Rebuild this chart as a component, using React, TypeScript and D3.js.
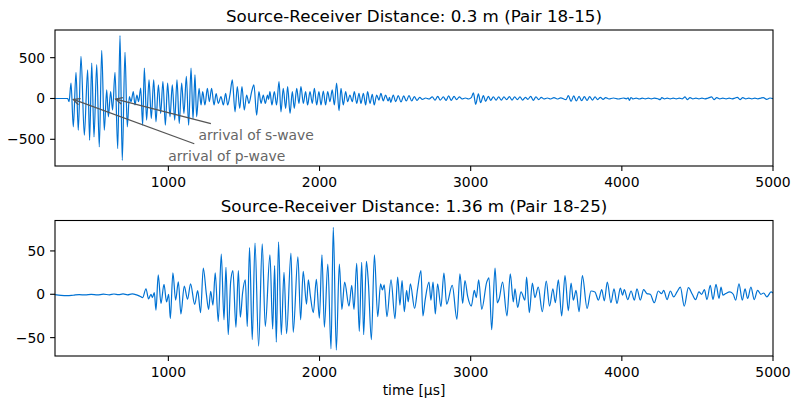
import React from "react";
import * as d3 from "d3";

// ---------- DATA ----------
const titles = [
  "Source-Receiver Distance: 0.3 m (Pair 18-15)",
  "Source-Receiver Distance: 1.36 m (Pair 18-25)",
];
const xTicks = [1000, 2000, 3000, 4000, 5000];
const topYTicks = [-500, 0, 500];
const botYTicks = [-50, 0, 50];
const xLabel = "time [µs]";

// annotations: [label, arrival time, text x, text y]
const annLabels = ["arrival of p-wave", "arrival of s-wave"];
const annArrival = [354, 634];
const annTextX = [1000, 1200];
const annTextY = [-700, -450];

// pair 18-15 (top)
const topTime = [
  250, 300, 334, 343, 356, 371, 389, 404, 422, 444, 466, 479, 493, 508, 526, 543, 559, 576, 592, 603,
  618, 631, 647, 665, 680, 695, 713, 728, 742, 753, 768, 779, 792, 803, 817, 830, 841, 856, 872, 887,
  903, 918, 934, 949, 964, 980, 995, 1011, 1026, 1042, 1057, 1072, 1088, 1103, 1119, 1134, 1150, 1163, 1176, 1187,
  1203, 1216, 1227, 1242, 1258, 1271, 1286, 1302, 1316, 1330, 1348, 1364, 1379, 1392, 1408, 1423, 1441, 1456, 1472, 1487,
  1502, 1518, 1533, 1551, 1566, 1584, 1599, 1613, 1628, 1641, 1656, 1663, 1672, 1685, 1701, 1716, 1732, 1745, 1760, 1776,
  1789, 1805, 1820, 1833, 1849, 1864, 1877, 1893, 1908, 1921, 1937, 1952, 1966, 1981, 1996, 2010, 2025, 2040, 2054, 2069,
  2084, 2098, 2113, 2129, 2142, 2157, 2173, 2186, 2201, 2217, 2230, 2246, 2261, 2274, 2290, 2305, 2318, 2334, 2349, 2362,
  2378, 2393, 2406, 2422, 2437, 2454, 2463, 2471, 2488, 2504, 2521, 2539, 2557, 2574, 2592, 2610, 2627, 2645, 2663, 2680,
  2702, 2724, 2746, 2764, 2782, 2799, 2819, 2837, 2854, 2872, 2890, 2907, 2925, 2943, 2965, 2987, 3004, 3018, 3033, 3051,
  3066, 3084, 3099, 3117, 3132, 3150, 3168, 3185, 3203, 3220, 3238, 3256, 3273, 3291, 3309, 3326, 3344, 3362, 3379, 3397,
  3414, 3432, 3450, 3467, 3485, 3507, 3529, 3551, 3573, 3595, 3631, 3646, 3664, 3682, 3699, 3717, 3734, 3752, 3770, 3787,
  3805, 3823, 3840, 3858, 3876, 3893, 3915, 3944, 3977, 4010, 4030, 4042, 4050, 4060, 4075, 4095, 4115, 4135, 4155, 4175,
  4195, 4215, 4238, 4253, 4265, 4282, 4300, 4320, 4340, 4360, 4380, 4400, 4418, 4433, 4451, 4470, 4490, 4510, 4530, 4550,
  4570, 4594, 4610, 4628, 4648, 4668, 4690, 4710, 4730, 4748, 4764, 4782, 4800, 4820, 4840, 4860, 4880, 4900, 4920, 4936,
  4958, 4980, 5000,
];
const topAmp = [
  0, 0, 0, -39, 188, -347, 319, -389, 517, -450, 352, -512, 434, -471, 414, -594, 591, -389, 105, -224,
  85, -142, 319, -615, 772, -759, 566, -347, 23, -39, 85, -80, 43, -39, 126, -327, 373, -265, 229, -244,
  229, -286, 167, -183, 208, -327, 188, -224, 167, -265, 229, -306, 188, -183, 270, -327, 373, -250, 290, -225,
  125, -80, 84, -80, 125, -39, 125, -80, 60, -60, 22, -80, 64, -80, 51, 228, -163, 146, -121, 146,
  -142, 43, -60, 84, 166, -204, 84, -60, 43, -60, 40, -10, 84, -80, 84, -80, 208, -163, 125, -121,
  146, -183, 84, -121, 125, -60, 146, -60, 84, -80, 84, -60, 125, -80, 84, -80, 92, -80, 84, -39,
  105, -80, 187, -150, 125, -80, 84, -39, 43, -39, 84, -60, 64, -60, 64, -80, 84, -60, 51, -80,
  43, -19, 64, -30, 43, -30, 15, -47, 43, -39, 35, -43, 31, -31, 35, -31, 23, -23, 14, -10,
  6, -6, 19, -19, 27, -19, 19, -23, 31, -23, 27, -14, 19, -6, 6, -6, 10, 68, -72, 56,
  -52, 35, -35, 27, -23, 19, -19, 19, -19, 19, -14, 23, -19, 19, -14, 19, -19, 14, -10, 27,
  -23, 19, -14, 14, -6, 6, -6, 10, -6, 8, -14, 35, -35, 31, -31, 27, -27, 23, -23, 23,
  -19, 19, -14, 14, -10, 10, -6, 6, -6, 6, -4, 8, -23, 12, -5, 5, -6, 4, -5, 5,
  -4, 5, -3, -14, 10, -5, 5, -5, 4, -5, 5, -4, 19, -14, 10, -5, 5, -5, 4, -5,
  5, 19, -14, 10, -5, 5, -5, 4, -5, 5, 14, -14, 10, -5, 5, -5, 5, -4, 5, 10,
  -10, 6, -2,
];

// pair 18-25 (bottom)
const botTime = [
  250, 290, 330, 370, 410, 450, 490, 530, 570, 610, 640, 670, 700, 730, 760, 790, 812, 830, 852, 869,
  885, 894, 907, 918, 933, 951, 971, 988, 1002, 1013, 1030, 1048, 1066, 1083, 1105, 1127, 1147, 1174, 1194, 1213,
  1231, 1251, 1266, 1280, 1295, 1310, 1330, 1350, 1368, 1381, 1396, 1412, 1427, 1447, 1463, 1476, 1491, 1509, 1522, 1537,
  1555, 1573, 1597, 1621, 1641, 1672, 1690, 1703, 1714, 1729, 1747, 1765, 1782, 1811, 1826, 1857, 1875, 1892, 1914, 1926,
  1939, 1959, 1979, 1999, 2016, 2032, 2055, 2076, 2091, 2111, 2131, 2148, 2166, 2195, 2213, 2228, 2246, 2263, 2279, 2292,
  2310, 2323, 2343, 2363, 2385, 2404, 2416, 2428, 2446, 2473, 2499, 2517, 2532, 2546, 2561, 2576, 2587, 2601, 2629, 2649,
  2671, 2684, 2698, 2724, 2737, 2751, 2766, 2781, 2803, 2823, 2841, 2878, 2909, 2929, 2947, 2962, 2980, 3004, 3024, 3037,
  3053, 3073, 3106, 3121, 3139, 3161, 3176, 3189, 3211, 3240, 3262, 3282, 3293, 3311, 3333, 3359, 3370, 3388, 3408, 3425,
  3447, 3474, 3500, 3522, 3544, 3560, 3580, 3602, 3624, 3646, 3664, 3679, 3697, 3717, 3739, 3770, 3796, 3822, 3845, 3867,
  3884, 3904, 3928, 3948, 3968, 3990, 4005, 4016, 4039, 4061, 4083, 4100, 4122, 4144, 4166, 4188, 4215, 4241, 4263, 4277,
  4299, 4321, 4343, 4365, 4387, 4413, 4440, 4466, 4488, 4510, 4528, 4546, 4563, 4585, 4603, 4623, 4643, 4656, 4669, 4687,
  4715, 4737, 4753, 4775, 4797, 4815, 4832, 4854, 4876, 4898, 4920, 4938, 4960, 4987, 5000,
];
const botAmp = [
  -0.5, -1.3, -1.6, -1.1, -0.4, -0.8, -0.2, -0.7, 0.1, -0.6, 0.3, -0.5, 0.4, -0.6, 0.5, -0.7, -2.3, -3.8, 6.4, -5.3,
  0, -3.8, 1.9, -18.2, 22.4, -10.6, 11.4, -8.7, 0, -28, 24.6, -6.8, 14.4, -22.7, 9.5, -5.7, 12.1, -11.7, 4.2, -21.2,
  30.3, 0.8, -17.4, 3.4, -12.5, 24.6, -31.4, 46.2, -29.5, 31.1, -46.6, 14, 27.3, -37.9, 27.3, -26.5, 1.5, 16.7, -37.1, 53.8,
  -52.3, 59.1, -59.8, 58.3, -37.1, 45.5, -40.1, 33, -55.3, 60.6, -46.6, 25.4, -45.4, 47.4, -43.9, 43.2, -29.5, 26.5, -11.4, 16.7,
  -1.1, -21.2, 17.1, -27.6, 45.5, -37.9, 34.9, -62.9, 77.3, -64.4, 34.9, -17.4, 14, -13.6, 10.2, -17.4, 35.6, -42.8, 36.8, -46.6,
  37.9, 14, -52.3, 45.5, -25.8, 12.1, 5, 11, -25.8, 16.7, -28, 19.7, -12.5, 15.9, -20.1, 4.5, -8.7, 12.1, -16.3, 6.4,
  27.3, -25, -7.6, 14, -6.8, 14, -22.7, 12, -14.4, 24.3, -11.4, 10.2, -28.8, 23.5, -10.6, 15.9, -2.3, -13.6, 4.5, -3.8,
  16.7, -17.4, 14, 19, -40.9, 30.3, -9.8, -4.9, 14, -25, 23.5, -8.7, 6.4, -15.2, 2.7, -6.8, 19.7, -21.2, 12.9, -3.8,
  8.3, -20.1, 15.2, -13.6, 6.4, -9.8, 16.7, -25, 21.6, -19, 12.9, -6.8, 4.5, -20.1, 21.6, -16.3, 3.8, 2.7, -6.8, 5.3,
  -7.6, 14, -9.8, 6.4, -10.6, 7.2, -1.1, 5.3, -6.1, 3.8, -6.8, 6.4, -6.8, 5.3, 0.8, 0, -9.8, 3.8, 0.8, 4.5,
  -6.1, 3.8, -3, 2.7, 8.3, -13.6, 7.6, 0, -6.1, 2.7, 0, 5.3, -6.1, 10.2, -6.1, 11.4, -4.9, 8.3, -1.1, 0.8,
  2.7, 0, -6.8, 12.1, -6.8, 6.4, -4.9, 8.3, -6.1, 4.5, 0, 1.5, -3, 2.7, 1.5,
];

// ---------- LAYOUT ----------
const W = 793;
const H = 399;
const AX_L = 55;
const AX_R = 773;
const PANELS = [
  { top: 30, bottom: 166, domain: [-827, 839], ticks: topYTicks, time: topTime, amp: topAmp },
  { top: 220.5, bottom: 356, domain: [-71.2, 85.1], ticks: botYTicks, time: botTime, amp: botAmp },
];
const FONT = "DejaVu Sans, sans-serif";
const FS = 13.9;
const TITLE_FS = 16.7;
const LINE_COLOR = "#0072d3";
const TICK = 4.9;
const PAD = 4.9;

const fmt = (v: number) => (v < 0 ? "\u2212" + Math.abs(v) : String(v));

function measure(text: string, size: number) {
  const c = document.createElement("canvas").getContext("2d");
  if (!c) return text.length * size * 0.5;
  c.font = `${size}px DejaVu Sans`;
  return c.measureText(text).width;
}

export default function App() {
  const x = d3.scaleLinear().domain([250, 5000]).range([AX_L, AX_R]);

  return (
    <svg
      width={W}
      height={H}
      style={{ position: "fixed", left: 0, top: 0, background: "#fff" }}
      fontFamily={FONT}
    >
      <defs>
        {PANELS.map((p, i) => (
          <clipPath id={`clip${i}`} key={i}>
            <rect x={AX_L} y={p.top} width={AX_R - AX_L} height={p.bottom - p.top} />
          </clipPath>
        ))}
      </defs>
      {PANELS.map((p, i) => {
        const y = d3.scaleLinear().domain(p.domain).range([p.bottom, p.top]);
        const pts: [number, number][] = p.time.map((t, k) => [t, p.amp[k]]);
        const line = d3
          .line<[number, number]>()
          .x((d) => x(d[0]))
          .y((d) => y(d[1]))
          .curve(d3.curveMonotoneX);
        return (
          <g key={i}>
            <text
              x={(AX_L + AX_R) / 2}
              y={p.top - 8.3}
              textAnchor="middle"
              fontSize={TITLE_FS}
              fill="#000"
            >
              {titles[i]}
            </text>
            <path
              d={line(pts) || ""}
              fill="none"
              stroke={LINE_COLOR}
              strokeWidth={1.2}
              strokeLinejoin="round"
              clipPath={`url(#clip${i})`}
            />
            {/* x ticks */}
            {xTicks.map((t) => (
              <g key={t}>
                <line x1={x(t)} x2={x(t)} y1={p.bottom} y2={p.bottom + TICK} stroke="#000" strokeWidth={1.1} />
                <text x={x(t)} y={p.bottom + TICK + PAD + 11.3} textAnchor="middle" fontSize={FS}>
                  {fmt(t)}
                </text>
              </g>
            ))}
            {/* y ticks */}
            {p.ticks.map((v) => (
              <g key={v}>
                <line x1={AX_L - TICK} x2={AX_L} y1={y(v)} y2={y(v)} stroke="#000" strokeWidth={1.1} />
                <text x={AX_L - TICK - PAD} y={y(v) + 5} textAnchor="end" fontSize={FS}>
                  {fmt(v)}
                </text>
              </g>
            ))}
            <rect
              x={AX_L}
              y={p.top}
              width={AX_R - AX_L}
              height={p.bottom - p.top}
              fill="none"
              stroke="#000"
              strokeWidth={1.1}
            />
            {i === 0 &&
              annLabels.map((lab, k) => {
                const tw = measure(lab, FS);
                const th = FS * 1.17;
                const tx = x(annTextX[k]);
                const ty = y(annTextY[k]);
                const cx = tx + tw / 2;
                const cy = ty;
                const px = x(annArrival[k]);
                const py = y(0);
                const padA = 2.8;
                const hw = tw / 2 + padA;
                const hh = th / 2 + padA;
                const dx = px - cx;
                const dy = py - cy;
                const s = Math.min(Math.abs(hw / dx), Math.abs(hh / dy));
                const len = Math.hypot(dx, dy);
                const ux = dx / len;
                const uy = dy / len;
                const sx = cx + dx * s + ux * 2.8;
                const sy = cy + dy * s + uy * 2.8;
                const ex = px - ux * 2.8;
                const ey = py - uy * 2.8;
                const hl = 6.5;
                const hwid = 3.2;
                const bx = ex - ux * hl;
                const by = ey - uy * hl;
                const nx = -uy;
                const ny = ux;
                return (
                  <g key={lab}>
                    <line x1={sx} y1={sy} x2={ex} y2={ey} stroke="#555" strokeWidth={1.3} />
                    <polyline
                      points={`${bx + nx * hwid},${by + ny * hwid} ${ex},${ey} ${bx - nx * hwid},${by - ny * hwid}`}
                      fill="none"
                      stroke="#555"
                      strokeWidth={1.3}
                    />
                    <text x={tx} y={ty} dominantBaseline="central" fontSize={FS} fill="#666">
                      {lab}
                    </text>
                  </g>
                );
              })}
          </g>
        );
      })}
      <text x={(AX_L + AX_R) / 2} y={395} textAnchor="middle" fontSize={FS}>
        {xLabel}
      </text>
    </svg>
  );
}
